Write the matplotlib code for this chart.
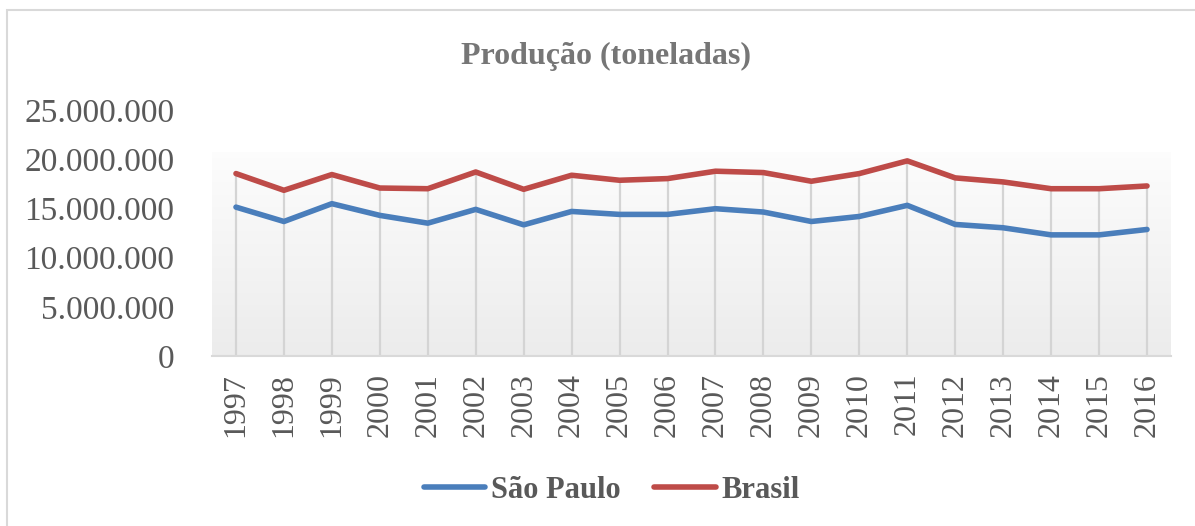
import numpy as np
import matplotlib
matplotlib.use("Agg")
from matplotlib import pyplot as plt
from matplotlib.patches import Rectangle
from matplotlib.ticker import FuncFormatter

# data (tonnes)
anos = [1997, 1998, 1999, 2000, 2001, 2002, 2003, 2004, 2005, 2006,
        2007, 2008, 2009, 2010, 2011, 2012, 2013, 2014, 2015, 2016]
sao_paulo = [15.13, 13.67, 15.48, 14.29, 13.50, 14.90, 13.33, 14.69, 14.39, 14.39,
             14.97, 14.63, 13.67, 14.18, 15.31, 13.37, 13.03, 12.31, 12.31, 12.86]
brasil = [18.54, 16.84, 18.44, 17.07, 17.00, 18.70, 16.94, 18.37, 17.86, 18.03,
          18.78, 18.64, 17.76, 18.54, 19.83, 18.10, 17.69, 17.00, 17.00, 17.28]
sao_paulo = [v * 1e6 for v in sao_paulo]
brasil = [v * 1e6 for v in brasil]
y_ticks = [0, 5e6, 10e6, 15e6, 20e6, 25e6]

serif = ["Liberation Serif", "DejaVu Serif"]
azul = "#4a7ebb"
vermelho = "#be4b48"
texto = "#595959"

fig = plt.figure(figsize=(11.95, 5.26), dpi=100)
fig.patch.set_facecolor("white")

# light frame of the chart (left and top edges visible)
fig.patches.append(Rectangle((7 / 1195, -0.1), 1.2, 1 - 10 / 526 + 0.1,
                             transform=fig.transFigure, fill=False,
                             edgecolor="#d9d9d9", linewidth=1.5))

ax = fig.add_axes([212 / 1195, 1 - 356 / 526, (1171 - 212) / 1195, (356 - 110) / 526])
x = np.arange(len(anos))
ax.set_xlim(-0.5, len(anos) - 0.5)
ax.set_ylim(0, 25e6)

# gradient fill of the plot area, white at top to light gray at bottom
grad = np.linspace(0, 1, 256).reshape(-1, 1)
cores = np.empty((256, 1, 3))
topo = np.array([0.99, 0.99, 0.99])
base = np.array([0.925, 0.925, 0.925])
for i in range(256):
    cores[i, 0] = topo + (base - topo) * grad[i, 0]
ax.imshow(cores, extent=(-0.5, len(anos) - 0.5, 0, 20.7e6), aspect="auto",
          zorder=0, interpolation="bilinear")

# drop lines from the highest series down to the axis
ax.vlines(x, 0, brasil, color="#d4d4d4", linewidth=1.6, zorder=1)

ax.plot(x, sao_paulo, color=azul, linewidth=4, solid_capstyle="round",
        solid_joinstyle="round", label="São Paulo", zorder=3)
ax.plot(x, brasil, color=vermelho, linewidth=4, solid_capstyle="round",
        solid_joinstyle="round", label="Brasil", zorder=3)

for s in ["top", "right", "left"]:
    ax.spines[s].set_visible(False)
ax.spines["bottom"].set_color("#d9d9d9")
ax.spines["bottom"].set_linewidth(1.5)

ax.set_yticks(y_ticks)
ax.yaxis.set_major_formatter(FuncFormatter(lambda v, p: f"{int(v):,}".replace(",", ".")))
ax.set_xticks(x)
ax.set_xticklabels([str(a) for a in anos], rotation=90)
ax.tick_params(axis="both", length=0, colors=texto)
ax.tick_params(axis="y", pad=27)
ax.tick_params(axis="x", pad=12)
for lab in ax.get_yticklabels():
    lab.set_family(serif)
    lab.set_fontsize(24)
    lab.set_color(texto)
for lab in ax.get_xticklabels():
    lab.set_family(serif)
    lab.set_fontsize(23)
    lab.set_color(texto)

fig.text(606 / 1195, 1 - 56 / 526, "Produção (toneladas)", ha="center", va="center",
         family=serif, fontsize=23, fontweight="bold", color="#767676")

leg = fig.legend(loc="center", bbox_to_anchor=(612 / 1195, 1 - 490 / 526), ncol=2,
                 frameon=False, handlelength=2.0, handletextpad=0.2, columnspacing=1.1,
                 prop={"family": serif, "size": 22, "weight": "bold"})
for t in leg.get_texts():
    t.set_color(texto)
for h in leg.get_lines():
    h.set_linewidth(4)

fig.savefig("out.png", dpi=100, facecolor="white")
